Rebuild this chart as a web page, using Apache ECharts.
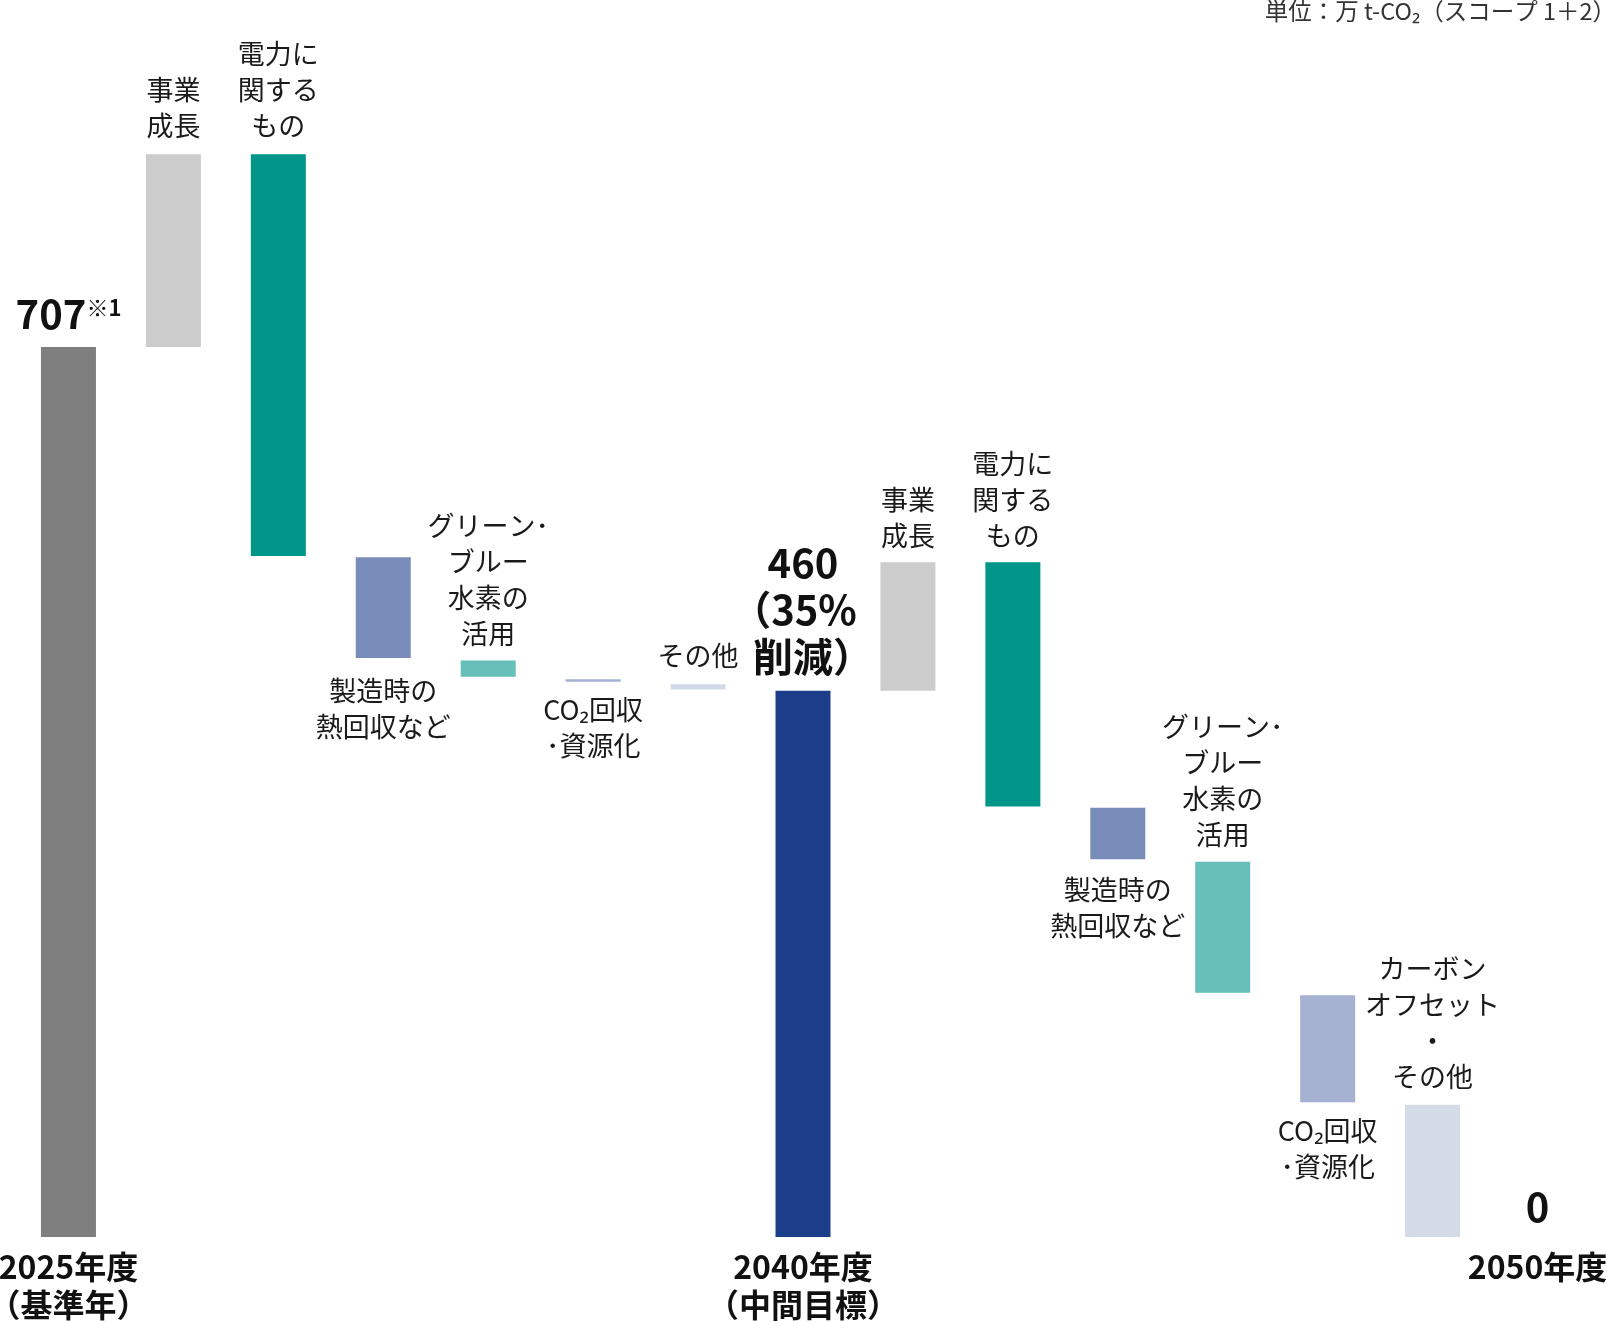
<!DOCTYPE html>
<html>
<head>
<meta charset="utf-8">
<script src="https://cdn.jsdelivr.net/npm/echarts@6/dist/echarts.min.js"></script>
<style>
  html, body { margin: 0; padding: 0; background: #fff; }
  #main { width: 1607px; height: 1321px; }
</style>
</head>
<body>
<div id="main"></div>
<script>
  // カテゴリ（棒ごとのラベル）
  var categories = [
    '2025年度\n（基準年）', '事業\n成長', '電力に\n関する\nもの', '製造時の\n熱回収など',
    'グリーン･\nブルー\n水素の\n活用', 'CO₂回収\n･資源化', 'その他', '2040年度\n（中間目標）',
    '事業\n成長', '電力に\n関する\nもの', '製造時の\n熱回収など', 'グリーン･\nブルー\n水素の\n活用',
    'CO₂回収\n･資源化', 'カーボン\nオフセット\n・\nその他', '2050年度'
  ]
  // 棒の上端・下端（万 t-CO2、図から読み取り）
  var barTop = [707, 860, 860, 540, 458, 443, 439, 434, 536, 536, 341, 298, 192, 105, 0]
  var barBottom = [0, 707, 541, 460, 445, 441, 435, 0, 434, 342, 300, 194, 107, 0, 0]
  // 合計棒の位置とラベル
  var totalIdx = [0, 7, 14]
  var totalLabels = ['{b|707}{s|※1}', '{b|460}\n{l2|（35%}\n{l3|削減）}', '{b|0}']
  // ラベルの位置（棒の上 or 下）
  var labelSide = ['top', 'top', 'top', 'bottom', 'top', 'bottom', 'top', 'top',
    'top', 'top', 'bottom', 'top', 'bottom', 'top', 'top']
  var labelDist = [10, 11, 11, 15, 9, 10, 11, 10, 9, 9, 12, 9, 10, 10, 7]
  var barColors = ['#7f7f7f', '#cccccc', '#00968a', '#7a8cba', '#66bfb8', '#a3b0d0', '#d2daea', '#1c3d8a',
    '#cccccc', '#00968a', '#7a8cba', '#66bfb8', '#a4b1d0', '#d3dbe8', '#d3dbe8']

  var FONT = '"Noto Sans CJK JP", "Noto Sans", sans-serif'

  var bigText = { fontSize: 40, lineHeight: 47, fontWeight: 'bold', color: '#111', fontFamily: FONT }

  var baseData = barBottom.slice()
  var barData = []
  for (var i = 0; i < categories.length; i++) {
    var isTotal = totalIdx.indexOf(i) >= 0
    var label = {
      show: true,
      position: labelSide[i],
      distance: labelDist[i],
      color: '#1a1a1a',
      fontFamily: FONT,
      fontSize: 27,
      lineHeight: 36,
      formatter: isTotal ? totalLabels[totalIdx.indexOf(i)] : '{b}'
    }
    if (isTotal) {
      label.rich = {
        b: bigText,
        l2: Object.assign({}, bigText, { padding: [0, 18, 0, 0] }),
        l3: Object.assign({}, bigText, { padding: [0, 0, 0, 20] }),
        s: { fontSize: 22, lineHeight: 22, fontWeight: 'bold', color: '#111', fontFamily: FONT, verticalAlign: 'top', padding: [7, 0, 0, 0] }
      }
    }
    barData.push({
      value: barTop[i] - barBottom[i],
      itemStyle: { color: barColors[i] },
      label: label
    })
  }

  var myChart = echarts.init(document.getElementById('main'))
  var option = {
    animation: false,
    title: {
      text: '単位：万 t-CO₂（スコープ 1＋2）',
      right: -9,
      top: -1,
      padding: 0,
      textStyle: { fontFamily: FONT, fontSize: 23.5, fontWeight: 'normal', color: '#333' }
    },
    grid: {
      left: 16,
      right: 17,
      top: 104,
      bottom: 84,
      containLabel: false,
      outerBoundsMode: 'none'
    },
    xAxis: {
      type: 'category',
      data: categories,
      axisLine: { show: false },
      axisTick: { show: false },
      axisLabel: {
        interval: 0,
        margin: 11,
        fontFamily: FONT,
        fontSize: 32,
        lineHeight: 38,
        fontWeight: 'bold',
        color: '#111',
        formatter: function (value, idx) {
          return totalIdx.indexOf(idx) >= 0 ? value : ''
        }
      }
    },
    yAxis: {
      type: 'value',
      min: 0,
      max: 900,
      show: false,
      splitLine: { show: false }
    },
    series: [
      {
        name: 'base',
        type: 'bar',
        stack: 'w',
        barWidth: 55,
        itemStyle: { color: 'transparent' },
        silent: true,
        data: baseData
      },
      {
        name: 'value',
        type: 'bar',
        stack: 'w',
        barWidth: 55,
        data: barData
      }
    ]
  }
  myChart.setOption(option)
</script>
</body>
</html>
